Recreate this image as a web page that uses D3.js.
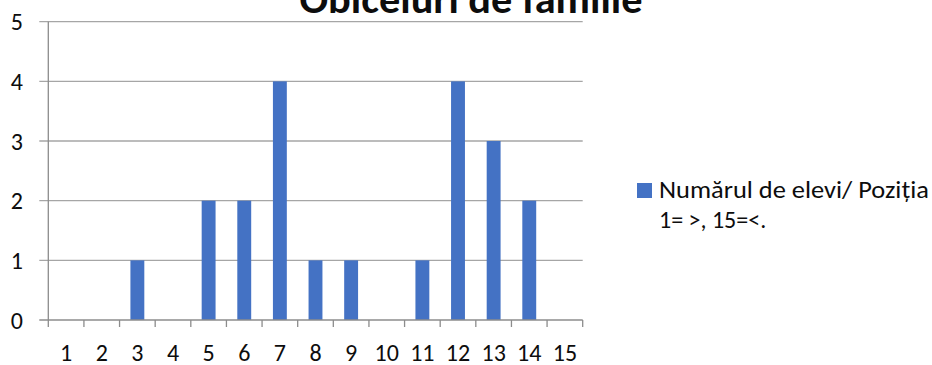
<!DOCTYPE html>
<html>
<head>
<meta charset="utf-8">
<script src="https://cdn.jsdelivr.net/npm/d3@7"></script>
<style>
  html, body { margin: 0; padding: 0; background: #fff; }
  svg text { font-family: Carlito, Calibri, Lato, "Open Sans", sans-serif; fill: #0d0d0d; }
</style>
</head>
<body>
<svg id="chart" width="932" height="365"></svg>
<script>
// Data
const categories = ["1","2","3","4","5","6","7","8","9","10","11","12","13","14","15"];
const values = [0, 0, 1, 0, 2, 2, 4, 1, 1, 0, 1, 4, 3, 2, 0];
const yTicks = [0, 1, 2, 3, 4, 5];
const title = "Obiceiuri de familie";
const legendLines = ["Numărul de elevi/ Poziția", "1= >, 15=<."];

const svg = d3.select("#chart");
const plot = { left: 48.3, right: 582.7, top: 21.7, bottom: 320 };

const x = d3.scaleBand().domain(categories).range([plot.left, plot.right]).paddingInner(0.61).paddingOuter(0.305);
const xEdges = d3.scaleLinear().domain([0, categories.length]).range([plot.left, plot.right]);
const y = d3.scaleLinear().domain([0, 5]).range([plot.bottom, plot.top]);

// Horizontal gridlines with small outward ticks on the value axis
svg.append("g").selectAll("line").data(yTicks.filter(d => d > 0)).join("line")
  .attr("x1", plot.left - 9).attr("x2", plot.right)
  .attr("y1", d => y(d)).attr("y2", d => y(d))
  .attr("stroke", "#a6a6a6").attr("stroke-width", 1.3);

// Bars
svg.append("g").selectAll("rect").data(values).join("rect")
  .attr("x", (d, i) => x(categories[i]))
  .attr("width", x.bandwidth())
  .attr("y", d => y(d))
  .attr("height", d => y(0) - y(d))
  .attr("fill", "#4472c4");

// Value axis line
svg.append("line")
  .attr("x1", plot.left).attr("x2", plot.left)
  .attr("y1", plot.top).attr("y2", plot.bottom)
  .attr("stroke", "#8c8c8c").attr("stroke-width", 1.3);

// Category axis line with tick marks between categories
svg.append("line")
  .attr("x1", plot.left - 9).attr("x2", plot.right)
  .attr("y1", plot.bottom).attr("y2", plot.bottom)
  .attr("stroke", "#8c8c8c").attr("stroke-width", 1.3);
svg.append("g").selectAll("line").data(d3.range(categories.length + 1)).join("line")
  .attr("x1", d => xEdges(d)).attr("x2", d => xEdges(d))
  .attr("y1", plot.bottom).attr("y2", plot.bottom + 7)
  .attr("stroke", "#8c8c8c").attr("stroke-width", 1.3);

// Value labels
svg.append("g").selectAll("text").data(yTicks).join("text")
  .attr("x", 23).attr("y", d => y(d) + 8.5)
  .attr("text-anchor", "end").attr("font-size", 24)
  .text(d => d);

// Category labels
svg.append("g").selectAll("text").data(categories).join("text")
  .attr("x", d => x(d) + x.bandwidth() / 2).attr("y", 360.5)
  .attr("text-anchor", "middle").attr("font-size", 24)
  .text(d => d);

// Title
svg.append("text")
  .attr("x", 471).attr("y", 13)
  .attr("text-anchor", "middle").attr("font-size", 41).attr("font-weight", "bold")
  .attr("textLength", 343).attr("lengthAdjust", "spacingAndGlyphs")
  .text(title);

// Legend
svg.append("rect").attr("x", 637).attr("y", 183).attr("width", 15).attr("height", 15).attr("fill", "#4472c4");
svg.append("g").selectAll("text").data(legendLines).join("text")
  .attr("x", 659).attr("y", (d, i) => 198 + i * 30)
  .attr("font-size", 24)
  .attr("textLength", (d, i) => i === 0 ? 270 : null)
  .attr("lengthAdjust", "spacingAndGlyphs")
  .text(d => d);
</script>
</body>
</html>
